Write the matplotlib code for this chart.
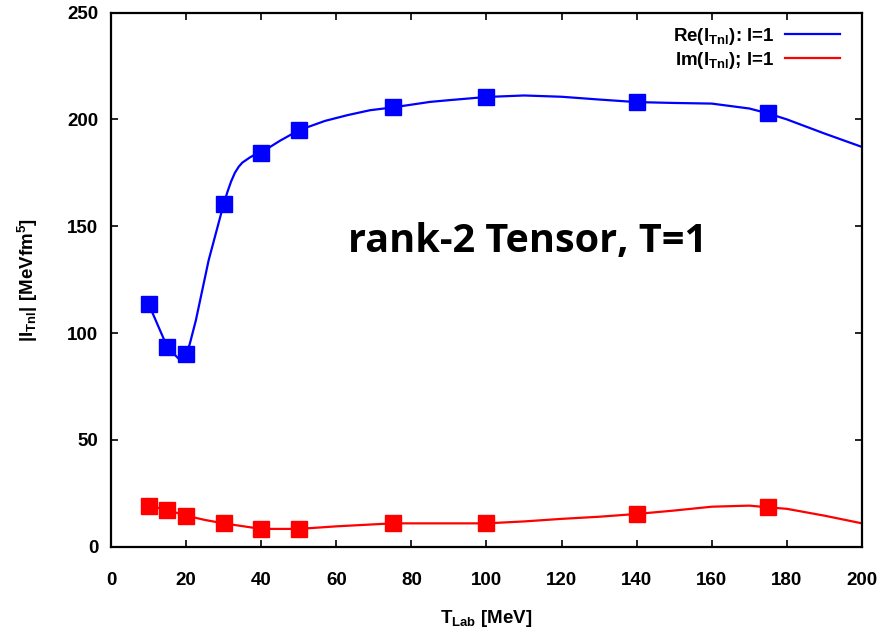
import numpy as np
import matplotlib.pyplot as plt

plt.rcParams['font.family'] = ['Liberation Sans', 'DejaVu Sans']
plt.rcParams['font.weight'] = 'bold'
plt.rcParams['axes.labelweight'] = 'bold'
plt.rcParams['mathtext.fontset'] = 'custom'
plt.rcParams['mathtext.rm'] = 'Liberation Sans:bold'
plt.rcParams['mathtext.bf'] = 'Liberation Sans:bold'
plt.rcParams['mathtext.it'] = 'Liberation Sans:bold'

###--- Data ---###
t_lab = [10, 15, 20, 30, 40, 50, 75, 100, 140, 175]
re_pts = [113.7, 93.4, 90.0, 160.3, 184.5, 194.9, 205.6, 210.5, 208.1, 202.8]
im_pts = [19.2, 17.2, 14.5, 10.9, 8.3, 8.3, 10.9, 10.9, 15.3, 18.4]

# smooth curves
re_x = [10, 15, 18, 20, 21, 22.6, 26, 30, 31, 32, 33, 34, 35, 37, 38, 40, 45, 50, 57,
        63, 69, 75, 85, 90, 100, 110, 120, 130, 140, 150, 160, 170, 175, 180, 190, 200]
re_y = [113.7, 93.4, 88.0, 89.5, 95.0, 105.9, 134.0, 160.3, 166.0, 171.0, 175.0, 177.8,
        179.8, 182.2, 183.2, 184.5, 190.0, 194.9, 199.3, 202.0, 204.3, 205.6, 208.2,
        209.0, 210.5, 211.2, 210.6, 209.3, 208.1, 207.7, 207.4, 205.1, 202.8, 200.0,
        193.4, 187.1]
im_x = [10, 15, 20, 25, 30, 40, 50, 60, 75, 88, 100, 110, 120, 130, 140, 150, 160,
        170, 175, 180, 190, 200]
im_y = [19.2, 17.2, 14.5, 12.5, 10.9, 8.3, 8.3, 9.5, 10.9, 10.9, 10.9, 11.8, 13.0,
        14.0, 15.3, 16.9, 18.7, 19.2, 18.4, 17.7, 14.5, 10.9]

fig = plt.figure(figsize=(8.85, 6.36), dpi=100)
ax = fig.add_axes([0.1254, 0.1405, 0.8486, 0.8397])

ax.plot(re_x, re_y, color='#0000ff', lw=1.6, label=r'Re(I$_{\mathrm{Tnl}}$): l=1')
ax.plot(im_x, im_y, color='#ff0000', lw=1.6, label=r'Im(I$_{\mathrm{Tnl}}$); l=1')
ax.plot(t_lab, re_pts, 's', color='#0000ff', ms=11)
ax.plot(t_lab, im_pts, 's', color='#ff0000', ms=11)

ax.set_xlim(0, 200)
ax.set_ylim(0, 250)
ax.set_xticks(np.arange(0, 201, 20))
ax.set_yticks(np.arange(0, 251, 50))
ax.tick_params(direction='in', top=True, right=True, length=5, width=1.2,
               labelsize=13.5)
ax.tick_params(axis='x', pad=18)
ax.tick_params(axis='y', pad=9)
for s in ax.spines.values():
    s.set_linewidth(1.6)

ax.set_xlabel(r'T$_{\mathrm{Lab}}$ [MeV]', fontsize=13.5, labelpad=14)
ax.set_ylabel(r'|I$_{\mathrm{Tnl}}$| [MeVfm$^{\mathrm{5}}$]', fontsize=13.5, labelpad=20)

ax.text(111, 143, 'rank-2 Tensor, T=1', fontsize=28.5, fontweight='bold',
        family=['Open Sans', 'DejaVu Sans'], ha='center', va='center')

ax.legend(loc='upper right', frameon=False, markerfirst=False, fontsize=13.5,
          handlelength=2.9, labelspacing=0.15, borderaxespad=0.1, handletextpad=0.6,
          bbox_to_anchor=(0.983, 0.993))

fig.savefig('out.png', dpi=100)
